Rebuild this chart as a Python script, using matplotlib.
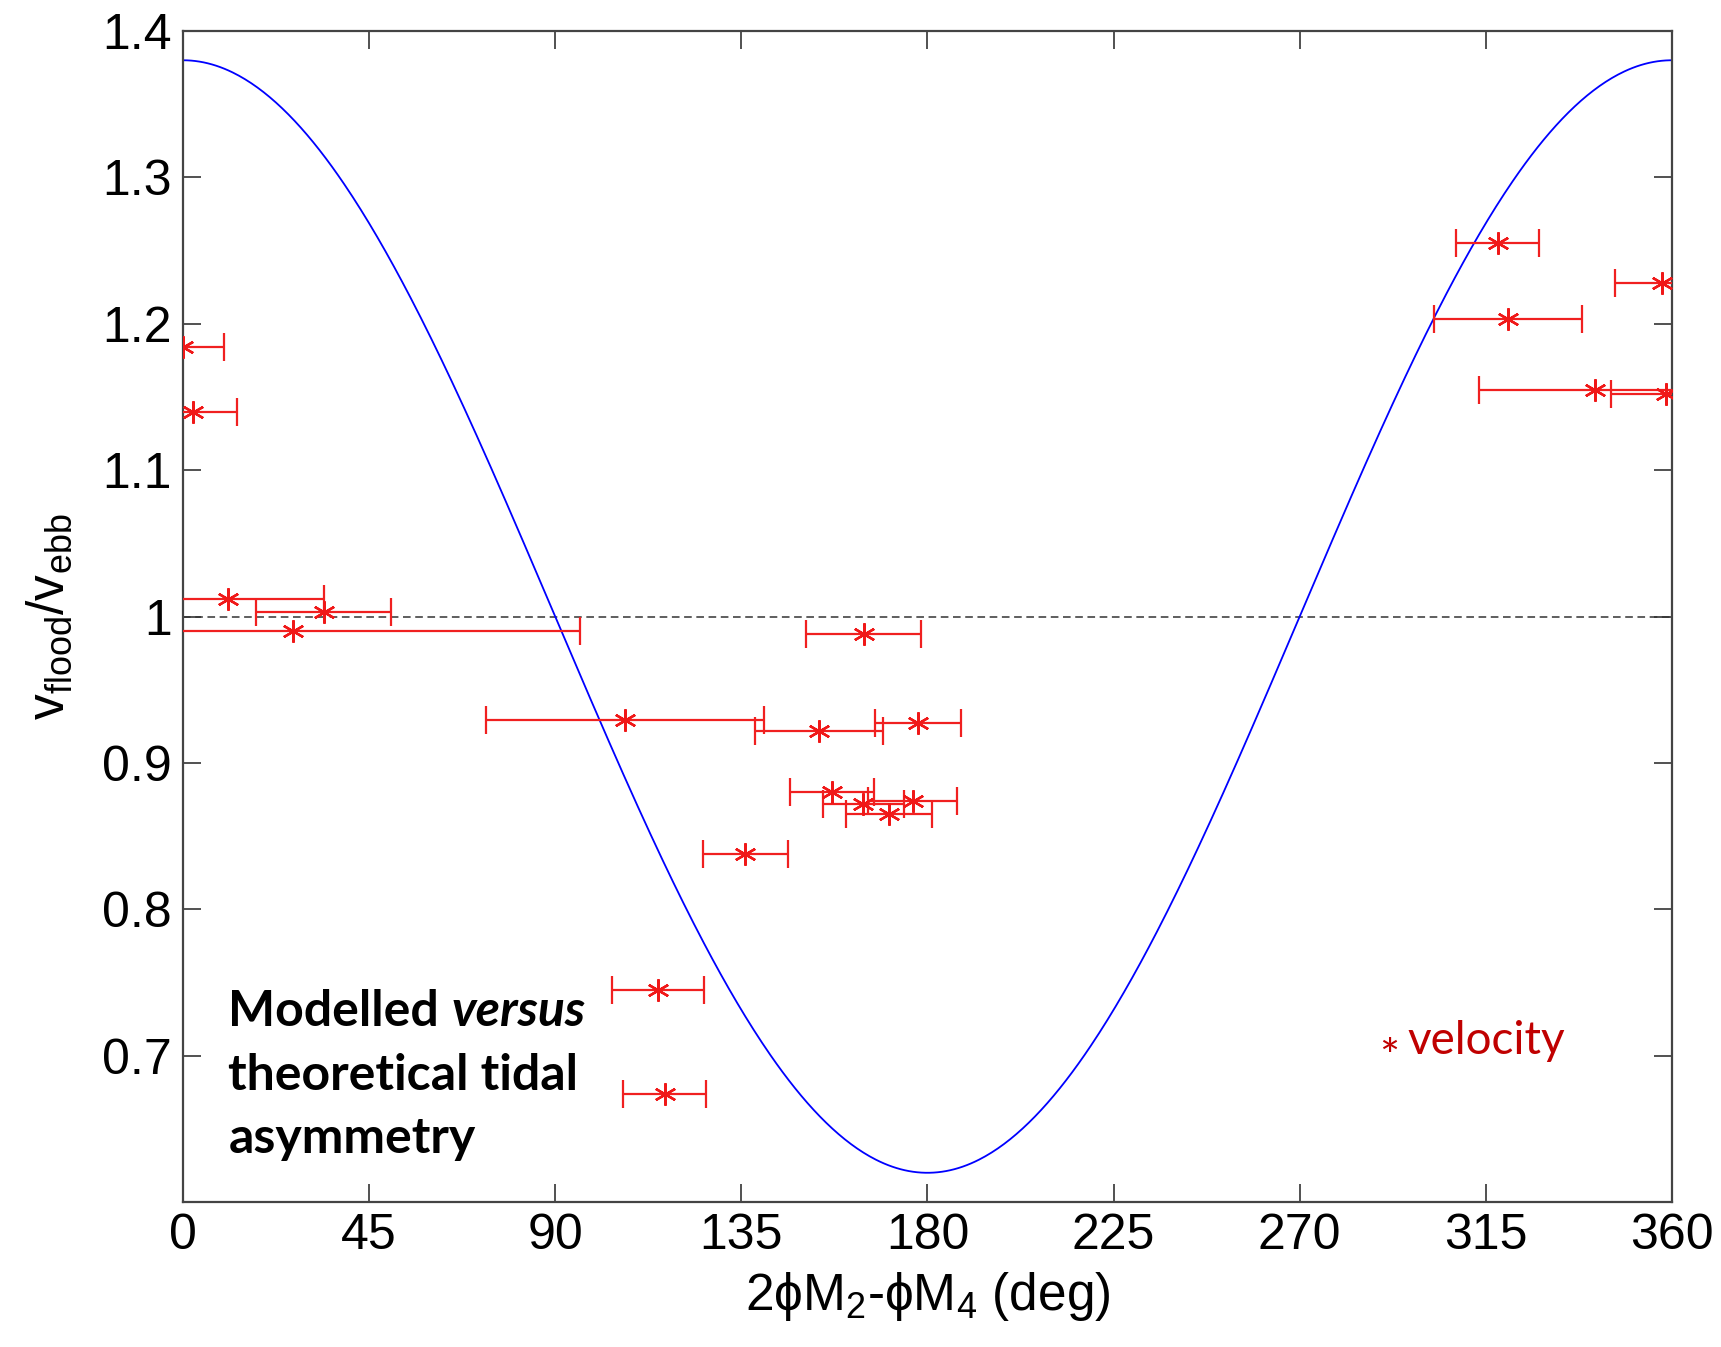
import numpy as np
import matplotlib
matplotlib.use("Agg")
import matplotlib.pyplot as plt

# modelled asymmetry: phase difference (deg), velocity ratio, phase spread (deg)
phase = [0.0, 2.5, 11.0, 34.0, 26.7, 106.9, 153.8, 177.7, 164.6, 156.9,
         164.5, 170.7, 176.4, 136.0, 114.8, 116.5, 317.9, 320.4, 357.5,
         341.4, 358.5]
ratio = [1.184, 1.140, 1.012, 1.003, 0.990, 0.929, 0.922, 0.927, 0.988,
         0.880, 0.872, 0.865, 0.874, 0.838, 0.745, 0.674, 1.255, 1.203,
         1.228, 1.155, 1.152]
phase_err = [10.0, 10.5, 23.2, 16.3, 69.3, 33.6, 15.5, 10.3, 13.9, 10.2,
             9.8, 10.4, 10.7, 10.2, 11.1, 10.0, 10.0, 17.9, 11.3, 28.1,
             13.3]

# theoretical curve: ratio = mean + amp * cos(phase)
theory_mean = 1.0
theory_amp = 0.38

xticks = [0, 45, 90, 135, 180, 225, 270, 315, 360]
yticks = [0.7, 0.8, 0.9, 1.0, 1.1, 1.2, 1.3, 1.4]
yticklabels = ['0.7', '0.8', '0.9', '1', '1.1', '1.2', '1.3', '1.4']

plt.rcParams['font.family'] = ['Liberation Sans', 'DejaVu Sans']
plt.rcParams['mathtext.fontset'] = 'custom'
plt.rcParams['mathtext.rm'] = 'Liberation Sans'
plt.rcParams['mathtext.it'] = 'Liberation Sans:italic'

fig = plt.figure(figsize=(17.21, 13.47), dpi=100)
ax = fig.add_axes([0.1063, 0.1076, 0.8652, 0.8694])

# theory line
th = np.linspace(0, 360, 721)
ax.plot(th, theory_mean + theory_amp * np.cos(np.radians(th)),
        color='#0000ff', lw=1.3, zorder=2)

# reference line at ratio 1
ax.axhline(1.0, color='#333333', lw=1.1, ls=(0, (5, 3)), zorder=1)

# modelled points
ax.errorbar(phase, ratio, xerr=phase_err, fmt='none', ecolor='#f02020',
            elinewidth=1.6, capsize=10, capthick=1.6, zorder=3)
ax.plot(phase, ratio, ls='none', marker=(6, 2, 0), ms=16, mew=1.7,
        color='#f01818', zorder=4)

ax.set_xlim(0, 360)
ax.set_ylim(0.6, 1.4)
ax.set_xticks(xticks)
ax.set_yticks(yticks)
ax.set_yticklabels(yticklabels)
ax.tick_params(direction='in', length=13, width=1.2, labelsize=36,
               top=True, right=True, colors='#333333', labelcolor='black')
ax.tick_params(axis='x', pad=8)
ax.tick_params(axis='y', pad=8)
for sp in ax.spines.values():
    sp.set_linewidth(1.6)
    sp.set_color('#444444')

ax.set_xlabel('2ϕM$_\\mathregular{2}$-ϕM$_\\mathregular{4}$ (deg)',
              fontsize=37, labelpad=8)
ax.set_ylabel('v$_\\mathregular{flood}$/v$_\\mathregular{ebb}$',
              fontsize=37, labelpad=20)

# annotation block
x0 = 0.0305
t1 = ax.text(x0, 0.150, 'Modelled ', transform=ax.transAxes, fontsize=36,
             fontweight='bold', family='Lato', va='baseline', ha='left')
fig.canvas.draw()
bb = t1.get_window_extent().transformed(ax.transAxes.inverted())
ax.text(bb.x1, 0.150, 'versus', transform=ax.transAxes, fontsize=36,
        fontweight='bold', style='italic', family='Lato', va='baseline', ha='left')
ax.text(x0, 0.0956, 'theoretical tidal', transform=ax.transAxes, fontsize=36,
        fontweight='bold', family='Lato', va='baseline', ha='left')
ax.text(x0, 0.0422, 'asymmetry', transform=ax.transAxes, fontsize=36,
        fontweight='bold', family='Lato', va='baseline', ha='left')

# legend-like label
ax.text(0.8035, 0.122, '*', transform=ax.transAxes, fontsize=34,
        color='#c00000', family='Lato', va='center', ha='left')
ax.text(0.8225, 0.1265, 'velocity', transform=ax.transAxes, fontsize=33,
        color='#c00000', family='Lato', va='baseline', ha='left')

fig.savefig('out.png', dpi=100)
